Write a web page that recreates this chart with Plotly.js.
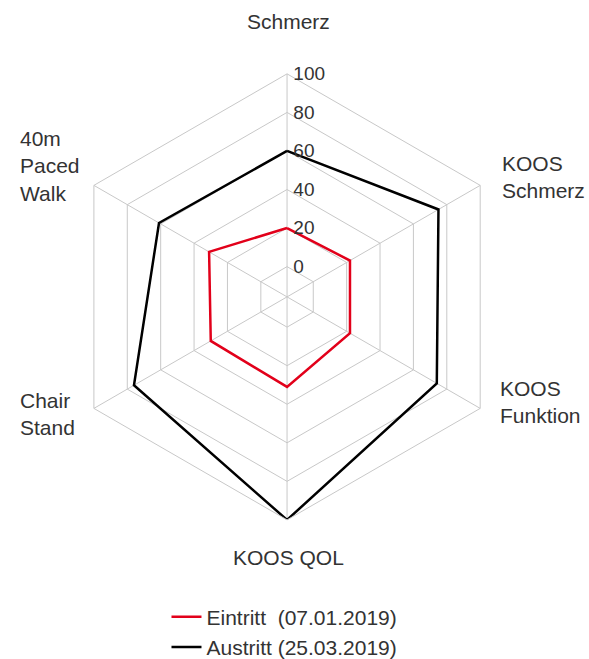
<!DOCTYPE html>
<html>
<head>
<meta charset="utf-8">
<script src="https://cdn.plot.ly/plotly-3.0.1.min.js"></script>
<style>html,body{margin:0;padding:0;background:#fff;}#chart{width:589px;height:659px;}</style>
</head>
<body>
<div id="chart"></div>
<script>
var categories = ["Schmerz", "KOOS<br>Schmerz", "KOOS<br>Funktion", "KOOS QOL", "Chair<br>Stand", "40m<br>Paced<br>Walk"];
var eintrittValues = [20, 22, 22, 31, 30, 31];
var austrittValues = [60, 75, 74, 100, 76, 61];
var seriesNames = ["Eintritt  (07.01.2019)", "Austritt (25.03.2019)"];
var radialTicks = [0, 20, 40, 60, 80, 100];

// placement of the category labels (pixels in the 589x659 figure), layout only
var W = 589, H = 659;
var labelPlacement = [
  {px: 288, py: 22, xa: "center"},
  {px: 500, py: 177, xa: "left"},
  {px: 498, py: 402, xa: "left"},
  {px: 288, py: 557, xa: "center"},
  {px: 18,  py: 414, xa: "left"},
  {px: 18,  py: 166, xa: "left"}
];

function closed(a) { return a.concat([a[0]]); }

var traces = [
  {
    type: "scatterpolar", mode: "lines",
    r: closed(eintrittValues), theta: closed(categories),
    name: seriesNames[0],
    line: {color: "#e2001a", width: 2.5}
  },
  {
    type: "scatterpolar", mode: "lines",
    r: closed(austrittValues), theta: closed(categories),
    name: seriesNames[1],
    line: {color: "#000000", width: 2.5}
  }
];

var annotations = categories.map(function (c, i) {
  var p = labelPlacement[i];
  return {
    text: c, xref: "paper", yref: "paper",
    x: p.px / W, y: 1 - p.py / H,
    xanchor: p.xa, yanchor: "middle", align: p.xa === "center" ? "center" : "left",
    showarrow: false, font: {size: 21, color: "#333"}
  };
});

var layout = {
  width: W, height: H,
  margin: {l: 0, r: 0, t: 0, b: 0, autoexpand: false},
  paper_bgcolor: "#fff",
  font: {family: "Liberation Sans, Arial, sans-serif", size: 20, color: "#333"},
  showlegend: true,
  legend: {x: 0.483, xanchor: "center", y: -0.013, yanchor: "bottom", orientation: "v",
           font: {size: 21, color: "#333"}, itemwidth: 30, tracegroupgap: 0},
  annotations: annotations,
  polar: {
    domain: {x: [0.1087, 0.866], y: [0.211, 0.888]},
    gridshape: "linear",
    bgcolor: "#fff",
    radialaxis: {
      range: [-15.7, 100], tickvals: radialTicks, ticktext: radialTicks.map(String),
      angle: 90, tickangle: 90, side: "clockwise",
      showline: false, ticks: "outside", ticklen: 2, tickcolor: "rgba(0,0,0,0)",
      gridcolor: "#c8c8c8", gridwidth: 1,
      tickfont: {size: 19, color: "#333"}
    },
    angularaxis: {
      rotation: 90, direction: "clockwise",
      categoryorder: "array", categoryarray: categories,
      gridcolor: "#c8c8c8", linecolor: "#c8c8c8", linewidth: 1, showline: true,
      showticklabels: false, ticks: ""
    }
  }
};

Plotly.newPlot("chart", traces, layout, {displayModeBar: false, staticPlot: true});
</script>
</body>
</html>
